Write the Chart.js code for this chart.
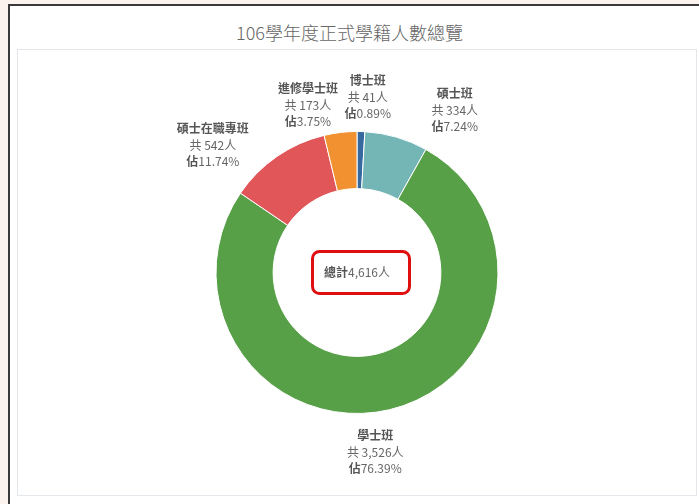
<!DOCTYPE html>
<html>
<head>
<meta charset="utf-8">
<script src="https://cdn.jsdelivr.net/npm/chart.js@4/dist/chart.umd.min.js"></script>
<style>
  html, body { margin: 0; padding: 0; }
  body { width: 699px; height: 504px; background: #fcf3ee; position: relative; overflow: hidden;
         font-family: "Noto Sans CJK TC", "Noto Sans", sans-serif; }
  #frame { position: absolute; left: 8px; top: 4px; right: -4px; bottom: -4px; background: #fff;
           border-left: 2px solid #3a3a3a; border-top: 2px solid #3a3a3a; }
  #title { position: absolute; left: 0; width: 699px; top: 19px; text-align: center;
           font-size: 18px; color: #666666; font-weight: 300; }
  #panel { position: absolute; left: 17px; top: 49px; width: 678px; height: 445px;
           border: 1px solid #e3e6ea; background: #fff; }
</style>
</head>
<body>
<div id="frame"></div>
<div id="title">106學年度正式學籍人數總覽</div>
<div id="panel"><canvas id="chart-area"></canvas></div>
<script>
  // data
  var categories = ['博士班', '碩士班', '學士班', '碩士在職專班', '進修學士班'];
  var counts = [41, 334, 3526, 542, 173];
  var shares = ['0.89%', '7.24%', '76.39%', '11.74%', '3.75%'];
  var totalLabel = '4,616';

  var sliceColors = ['#3669a0', '#74b6b5', '#57a048', '#e15759', '#f29130'];
  // label nudges (px) from the radial anchor, to keep labels apart
  var labelNudge = [[6, -4], [50, 2], [-21, 13], [-47, 14], [-29, 3]];

  function fmt(n) {
    return n.toString().replace(/\B(?=(\d{3})+(?!\d))/g, ',');
  }

  var textColor = '#666666';
  var nameColor = '#555555';
  var fontFam = '"Noto Sans CJK TC", "Noto Sans", sans-serif';

  var sliceLabels = {
    id: 'sliceLabels',
    afterDatasetsDraw: function (chart) {
      var ctx = chart.ctx;
      var meta = chart.getDatasetMeta(0);
      ctx.save();
      ctx.textBaseline = 'middle';
      meta.data.forEach(function (arc, i) {
        var mid = (arc.startAngle + arc.endAngle) / 2;
        var r = arc.outerRadius + 30;
        var x = arc.x + Math.cos(mid) * r + labelNudge[i][0];
        var y = arc.y + Math.sin(mid) * r + labelNudge[i][1];
        ctx.fillStyle = nameColor;
        ctx.textAlign = 'center';
        ctx.font = 'bold 12px ' + fontFam;
        ctx.fillText(categories[i], x, y - 17);
        ctx.fillStyle = textColor;
        ctx.font = '12px ' + fontFam;
        ctx.fillText('共 ' + fmt(counts[i]) + '人', x, y);
        // 佔 bold + percentage
        ctx.font = 'bold 12px ' + fontFam;
        var w1 = ctx.measureText('佔').width;
        ctx.font = '12px ' + fontFam;
        var w2 = ctx.measureText(shares[i]).width;
        var sx = x - (w1 + w2) / 2;
        ctx.textAlign = 'left';
        ctx.fillStyle = nameColor;
        ctx.font = 'bold 12px ' + fontFam;
        ctx.fillText('佔', sx, y + 16);
        ctx.fillStyle = textColor;
        ctx.font = '12px ' + fontFam;
        ctx.fillText(shares[i], sx + w1, y + 16);
      });

      // center total box
      var cx = meta.data[0].x, cy = meta.data[0].y;
      var bw = 97, bh = 42, bx = cx + 4 - bw / 2, by = cy - bh / 2;
      ctx.strokeStyle = '#e00f0f';
      ctx.lineWidth = 3;
      ctx.beginPath();
      ctx.roundRect(bx, by, bw, bh, 7);
      ctx.stroke();
      ctx.font = 'bold 12px ' + fontFam;
      var a = ctx.measureText('總計').width;
      ctx.font = '12px ' + fontFam;
      var b = ctx.measureText(totalLabel + '人').width;
      var tx = cx - (a + b) / 2;
      ctx.textAlign = 'left';
      ctx.fillStyle = nameColor;
      ctx.font = 'bold 12px ' + fontFam;
      ctx.fillText('總計', tx, cy);
      ctx.fillStyle = textColor;
      ctx.font = '12px ' + fontFam;
      ctx.fillText(totalLabel + '人', tx + a, cy);
      ctx.restore();
    }
  };

  var ctx = document.getElementById('chart-area').getContext('2d');
  window.myDoughnut = new Chart(ctx, {
    type: 'doughnut',
    data: {
      labels: categories,
      datasets: [{
        data: counts,
        backgroundColor: sliceColors,
        borderColor: '#ffffff',
        borderWidth: 1
      }]
    },
    options: {
      responsive: true,
      maintainAspectRatio: false,
      animation: false,
      radius: 141,
      cutout: '59.5%',
      plugins: {
        legend: { display: false },
        tooltip: { enabled: false }
      }
    },
    plugins: [sliceLabels]
  });
</script>
</body>
</html>
